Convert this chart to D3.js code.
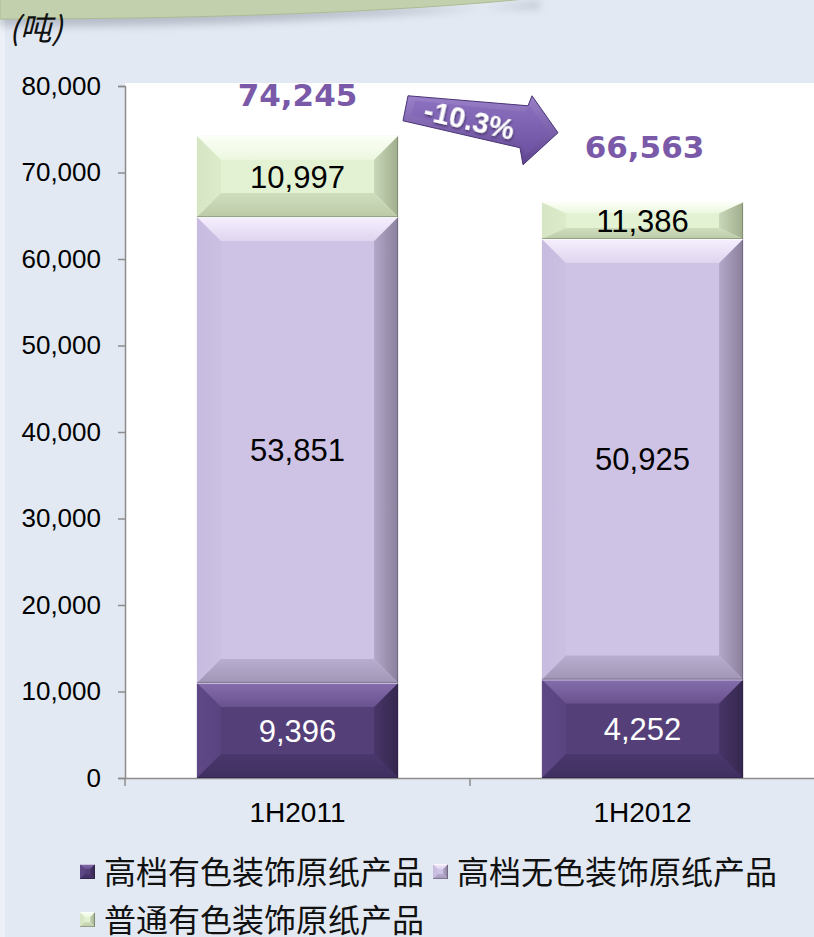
<!DOCTYPE html>
<html>
<head>
<meta charset="utf-8">
<script src="https://cdn.jsdelivr.net/npm/d3@7"></script>
<style>
  html, body { margin: 0; padding: 0; background: #e3e9f2; }
  svg { display: block; }
</style>
</head>
<body>
<div id="chart"></div>
<script>
// chart values
const categories = ["1H2011", "1H2012"];
const seriesNames = ["高档有色装饰原纸产品", "高档无色装饰原纸产品", "普通有色装饰原纸产品"];
const highColored = [9396, 4252];
const highPlain = [53851, 50925];
const normalColored = [10997, 11386];
const totals = [74245, 66563];
const changeLabel = "-10.3%";
const yTicks = [0, 10000, 20000, 30000, 40000, 50000, 60000, 70000, 80000];
const unitLabel = "(吨)";

const W = 814, H = 937;
const margin = { left: 125, top: 86, bottom: 778, right: 815 };

// bevel colours per series
const palettes = [
    { face: "#553f79", top: "#866eae", left: "#5e4886", right: "#35274e", bottom: "#3f2f60", edge: "#2a1f3e", text: "#ffffff" },
    { face: "#cfc3e5", top: "#f6effe", left: "#c7bbdf", right: "#8a809c", bottom: "#a196b6", edge: "#5f5870", text: "#000000" },
    { face: "#e2f2d2", top: "#fbfff6", left: "#d6e6c4", right: "#a0ae8e", bottom: "#bccaa8", edge: "#6d7662", text: "#000000" }
];

const svg = d3.select("#chart").append("svg")
    .attr("width", W)
    .attr("height", H);

const defs = svg.append("defs");

function grad(id, x2, y2, c1, c2) {
    const g = defs.append("linearGradient").attr("id", id)
        .attr("x1", 0).attr("y1", 0).attr("x2", x2).attr("y2", y2);
    g.append("stop").attr("offset", "0%").attr("stop-color", c1);
    g.append("stop").attr("offset", "100%").attr("stop-color", c2);
}

palettes.forEach((p, i) => {
    grad("gt" + i, 0, 1, p.top, d3.interpolateRgb(p.top, p.face)(0.6));
    grad("gb" + i, 0, 1, d3.interpolateRgb(p.face, p.bottom)(0.5), p.bottom);
    grad("gl" + i, 1, 0, p.left, d3.interpolateRgb(p.left, p.face)(0.5));
    grad("gr" + i, 1, 0, d3.interpolateRgb(p.face, p.right)(0.4), p.right);
});

const shadow = defs.append("filter").attr("id", "blur")
    .attr("x", "-10%").attr("y", "-50%").attr("width", "120%").attr("height", "200%");
shadow.append("feGaussianBlur").attr("stdDeviation", 4);

const txtShadow = defs.append("filter").attr("id", "tshadow");
txtShadow.append("feDropShadow").attr("dx", 1).attr("dy", 1.5).attr("stdDeviation", 1)
    .attr("flood-color", "#2a1a45").attr("flood-opacity", 0.7);

grad("arrowFill", 0, 1, "#9a80c8", "#5e4490");
grad("arrowInner", 0, 1, "#8a6fbf", "#6c52a2");

// lighter strip at the left edge
svg.append("rect").attr("x", 0).attr("y", 0).attr("width", 5).attr("height", H).attr("fill", "#edf1f7");

// top decoration band
svg.append("path")
    .attr("d", "M0,8 L0,26 C150,28 380,20 540,2 L540,8 Z")
    .attr("fill", "#8f98a6")
    .attr("opacity", 0.55)
    .attr("filter", "url(#blur)");
svg.append("path")
    .attr("d", "M0,-2 L535,-2 C400,12 200,19 0,19 Z")
    .attr("fill", "#c3d0ad")
    .attr("stroke", "#adbc95")
    .attr("stroke-width", 1);

// unit label
svg.append("text")
    .attr("x", 9).attr("y", 40)
    .attr("font-family", "'Noto Sans CJK SC', sans-serif")
    .attr("font-style", "italic")
    .attr("font-size", 32)
    .attr("fill", "#111")
    .text(unitLabel);

// scales
const y = d3.scaleLinear().domain([0, 80000]).range([margin.bottom, margin.top]);
const x = d3.scaleBand().domain(categories).range([margin.left, margin.right]);
const barW = x.bandwidth() * 0.583;

// plot area
svg.append("rect")
    .attr("x", margin.left).attr("y", margin.top - 3)
    .attr("width", W - margin.left).attr("height", margin.bottom - margin.top + 3)
    .attr("fill", "#ffffff");

// y axis
const yAxis = svg.append("g")
    .attr("transform", `translate(${margin.left},0)`)
    .call(d3.axisLeft(y).tickValues(yTicks).tickFormat(d3.format(",")).tickSize(7).tickPadding(17));
yAxis.select(".domain").attr("stroke", "#8c8c8c").attr("stroke-width", 1.5);
yAxis.selectAll(".tick line").attr("stroke", "#8c8c8c").attr("stroke-width", 1.5);
yAxis.selectAll(".tick text")
    .attr("font-family", "'Liberation Sans', Arial, sans-serif")
    .attr("font-size", 26)
    .attr("fill", "#000");

// x axis
const xAxis = svg.append("g")
    .attr("transform", `translate(0,${margin.bottom})`)
    .call(d3.axisBottom(x).tickSize(0).tickPadding(24));
xAxis.select(".domain").attr("stroke", "#8c8c8c").attr("stroke-width", 1.5);
xAxis.selectAll(".tick text")
    .attr("font-family", "'Liberation Sans', Arial, sans-serif")
    .attr("font-size", 28)
    .attr("fill", "#000");
xAxis.selectAll(".bound")
    .data(categories.map(c => x(c)).concat([x(categories[categories.length - 1]) + x.step()]))
    .enter().append("line")
    .attr("class", "bound")
    .attr("x1", d => d).attr("x2", d => d)
    .attr("y1", 0).attr("y2", 8)
    .attr("stroke", "#8c8c8c").attr("stroke-width", 1.5);

// bevelled rectangle
function bevelRect(g, x0, y0, w, h, i, bh, bv) {
    const x1 = x0 + w, y1 = y0 + h;
    const ix0 = x0 + bh, ix1 = x1 - bh, iy0 = y0 + bv, iy1 = y1 - bv;
    const p = palettes[i];
    const poly = pts => pts.map(q => q.join(",")).join(" ");
    g.append("rect").attr("x", x0).attr("y", y0).attr("width", w).attr("height", h).attr("fill", p.face);
    g.append("polygon").attr("points", poly([[x0, y0], [ix0, iy0], [ix0, iy1], [x0, y1]])).attr("fill", `url(#gl${i})`);
    g.append("polygon").attr("points", poly([[x1, y0], [ix1, iy0], [ix1, iy1], [x1, y1]])).attr("fill", `url(#gr${i})`);
    g.append("polygon").attr("points", poly([[x0, y0], [x1, y0], [ix1, iy0], [ix0, iy0]])).attr("fill", `url(#gt${i})`);
    g.append("polygon").attr("points", poly([[x0, y1], [x1, y1], [ix1, iy1], [ix0, iy1]])).attr("fill", `url(#gb${i})`);
    g.append("line").attr("x1", x1 - 0.5).attr("x2", x1 - 0.5).attr("y1", y0).attr("y2", y1)
        .attr("stroke", p.edge).attr("stroke-width", 1).attr("opacity", 0.6);
    g.append("line").attr("x1", x0).attr("x2", x1).attr("y1", y1 - 0.5).attr("y2", y1 - 0.5)
        .attr("stroke", p.edge).attr("stroke-width", 1).attr("opacity", 0.5);
    g.append("line").attr("x1", x0).attr("x2", x1).attr("y1", y0 + 0.5).attr("y2", y0 + 0.5)
        .attr("stroke", "#ffffff").attr("stroke-width", 1).attr("opacity", 0.6);
}

// The original stacks the segment heights in the reverse order of their labels:
// the bottom (dark) block is as tall as the 普通 value, the top (green) one as the 高档有色 value.
const heightRows = categories.map((c, i) => ({ cat: c, s0: normalColored[i], s1: highPlain[i], s2: highColored[i] }));
const labelSeries = [highColored, highPlain, normalColored];
const stacked = d3.stack().keys(["s0", "s1", "s2"])(heightRows);

const bars = svg.append("g");
stacked.forEach((layer, li) => {
    layer.forEach((d, ci) => {
        const x0 = x(d.data.cat) + (x.bandwidth() - barW) / 2;
        const yTop = y(d[1]), yBot = y(d[0]);
        const h = yBot - yTop;
        const g = bars.append("g");
        bevelRect(g, x0, yTop, barW, h, li, 24, Math.min(24, h * 0.3));
        g.append("text")
            .attr("x", x0 + barW / 2)
            .attr("y", yTop + h / 2)
            .attr("dy", "0.36em")
            .attr("text-anchor", "middle")
            .attr("font-family", "'Liberation Sans', Arial, sans-serif")
            .attr("font-size", 31)
            .attr("fill", palettes[li].text)
            .text(d3.format(",")(labelSeries[li][ci]));
    });
});

// totals above bars
const totalLift = [30, 44];
svg.selectAll(".total")
    .data(totals)
    .enter().append("text")
    .attr("class", "total")
    .attr("x", (d, i) => x(categories[i]) + x.bandwidth() / 2 + (i ? 2 : 0))
    .attr("y", (d, i) => y(d) - totalLift[i])
    .attr("text-anchor", "middle")
    .attr("font-family", "'DejaVu Sans', Verdana, sans-serif")
    .attr("font-weight", "bold")
    .attr("font-size", 31)
    .attr("fill", "#7a5aa8")
    .text(d => d3.format(",")(d));

// change arrow between the bars
const ax = x(categories[1]) - 67, ay = y(totals[0]) - 40;
const arrow = svg.append("g").attr("transform", `translate(${ax},${ay})`);
const arrowPts = [[5, 0], [125, 10], [129, 0], [155, 37], [120, 69], [117, 52], [0, 25]];
arrow.append("polygon")
    .attr("points", arrowPts.map(p => p.join(",")).join(" "))
    .attr("fill", "url(#arrowFill)")
    .attr("stroke", "#4a3576").attr("stroke-width", 1);
const innerPts = [[12, 5], [122, 16], [126, 9], [146, 37], [122, 60], [119, 46], [8, 20]];
arrow.append("polygon")
    .attr("points", innerPts.map(p => p.join(",")).join(" "))
    .attr("fill", "url(#arrowInner)")
    .attr("opacity", 0.9);
arrow.append("text")
    .attr("transform", "translate(64,34) rotate(13)")
    .attr("text-anchor", "middle")
    .attr("font-family", "'Liberation Sans', Arial, sans-serif")
    .attr("font-weight", "bold")
    .attr("font-size", 29)
    .attr("fill", "#ffffff")
    .attr("filter", "url(#tshadow)")
    .text(changeLabel);

// legend
const legendPos = [[80, 872], [433, 872], [80, 920]];
const legendOrder = [0, 1, 2];
const legend = svg.append("g");
legendOrder.forEach((si, k) => {
    const [lx, ly] = legendPos[k];
    const g = legend.append("g");
    bevelRect(g, lx, ly - 8, 15, 15, si, 5, 5);
    g.append("text")
        .attr("x", lx + 24)
        .attr("y", ly)
        .attr("dy", "0.36em")
        .attr("font-family", "'Noto Sans CJK SC', sans-serif")
        .attr("font-size", 32)
        .attr("fill", "#111")
        .text(seriesNames[si]);
});
</script>
</body>
</html>
